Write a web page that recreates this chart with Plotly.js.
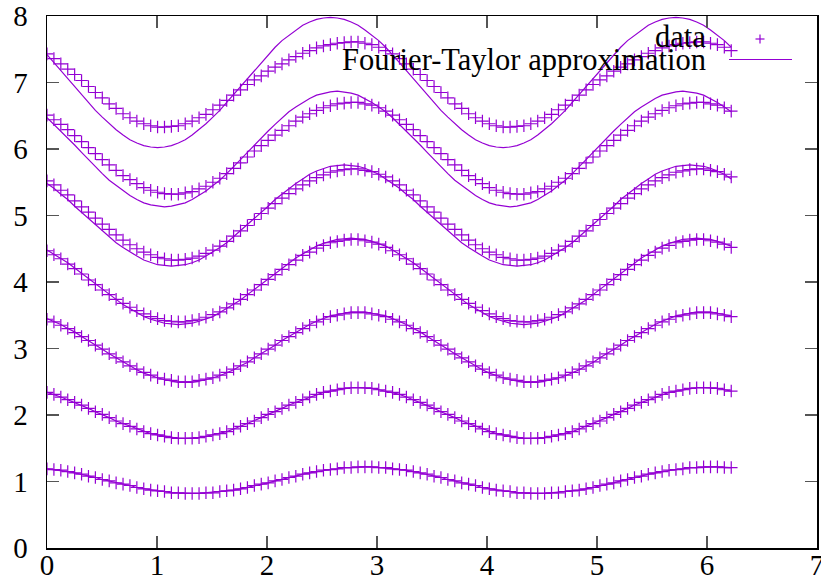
<!DOCTYPE html>
<html>
<head>
<meta charset="utf-8">
<script src="https://cdn.plot.ly/plotly-3.0.1.min.js"></script>
<style>html,body{margin:0;padding:0;background:#fff;}#chart{width:821px;height:583px;}</style>
</head>
<body>
<div id="chart"></div>
<script>
// x grid
const xs = [0, 0.0628, 0.1257, 0.1885, 0.2513, 0.3142, 0.3770, 0.4398, 0.5027, 0.5655, 0.6283, 0.6912, 0.7540, 0.8168, 0.8796, 0.9425, 1.0053, 1.0681, 1.1310, 1.1938, 1.2566, 1.3195, 1.3823, 1.4451, 1.5080, 1.5708, 1.6336, 1.6965, 1.7593, 1.8221, 1.8850, 1.9478, 2.0106, 2.0735, 2.1363, 2.1991, 2.2619, 2.3248, 2.3876, 2.4504, 2.5133, 2.5761, 2.6389, 2.7018, 2.7646, 2.8274, 2.8903, 2.9531, 3.0159, 3.0788,
 3.1416, 3.2044, 3.2673, 3.3301, 3.3929, 3.4558, 3.5186, 3.5814, 3.6442, 3.7071, 3.7699, 3.8327, 3.8956, 3.9584, 4.0212, 4.0841, 4.1469, 4.2097, 4.2726, 4.3354, 4.3982, 4.4611, 4.5239, 4.5867, 4.6496, 4.7124, 4.7752, 4.8381, 4.9009, 4.9637, 5.0265, 5.0894, 5.1522, 5.2150, 5.2779, 5.3407, 5.4035, 5.4664, 5.5292, 5.5920, 5.6549, 5.7177, 5.7805, 5.8434, 5.9062, 5.9690, 6.0319, 6.0947, 6.1575, 6.2204];

// data series (markers)
const data1 = [1.19, 1.18, 1.17, 1.15, 1.13, 1.11, 1.08, 1.06, 1.03, 1.01, 0.98, 0.96, 0.94, 0.91, 0.89, 0.87, 0.86, 0.85, 0.83, 0.83, 0.82, 0.82, 0.82, 0.83, 0.83, 0.85, 0.86, 0.87, 0.89, 0.91, 0.94, 0.96, 0.98, 1.01, 1.03, 1.06, 1.08, 1.11, 1.13, 1.15, 1.17, 1.18, 1.19, 1.21, 1.21, 1.22, 1.22, 1.22, 1.21, 1.21,
 1.19, 1.18, 1.17, 1.15, 1.13, 1.11, 1.08, 1.06, 1.03, 1.01, 0.98, 0.96, 0.94, 0.91, 0.89, 0.87, 0.86, 0.85, 0.83, 0.83, 0.82, 0.82, 0.82, 0.83, 0.83, 0.85, 0.86, 0.87, 0.89, 0.91, 0.94, 0.96, 0.98, 1.01, 1.03, 1.06, 1.08, 1.11, 1.13, 1.15, 1.17, 1.18, 1.19, 1.21, 1.21, 1.22, 1.22, 1.22, 1.21, 1.21];
const data2 = [2.34, 2.31, 2.27, 2.23, 2.19, 2.15, 2.10, 2.05, 2.01, 1.96, 1.91, 1.87, 1.83, 1.79, 1.75, 1.72, 1.70, 1.68, 1.66, 1.65, 1.65, 1.65, 1.66, 1.68, 1.70, 1.72, 1.75, 1.79, 1.83, 1.87, 1.91, 1.96, 2.01, 2.05, 2.10, 2.15, 2.19, 2.23, 2.27, 2.31, 2.34, 2.36, 2.38, 2.40, 2.41, 2.41, 2.41, 2.40, 2.38, 2.36,
 2.34, 2.31, 2.27, 2.23, 2.19, 2.15, 2.10, 2.05, 2.01, 1.96, 1.91, 1.87, 1.83, 1.79, 1.75, 1.72, 1.70, 1.68, 1.66, 1.65, 1.65, 1.65, 1.66, 1.68, 1.70, 1.72, 1.75, 1.79, 1.83, 1.87, 1.91, 1.96, 2.01, 2.05, 2.10, 2.15, 2.19, 2.23, 2.27, 2.31, 2.34, 2.36, 2.38, 2.40, 2.41, 2.41, 2.41, 2.40, 2.38, 2.36];
const data3 = [3.44, 3.40, 3.35, 3.30, 3.24, 3.18, 3.12, 3.05, 2.99, 2.92, 2.86, 2.80, 2.74, 2.69, 2.64, 2.60, 2.56, 2.54, 2.52, 2.50, 2.50, 2.50, 2.52, 2.54, 2.56, 2.60, 2.64, 2.69, 2.74, 2.80, 2.86, 2.92, 2.99, 3.05, 3.12, 3.18, 3.24, 3.30, 3.35, 3.40, 3.44, 3.48, 3.50, 3.52, 3.54, 3.54, 3.54, 3.52, 3.50, 3.48,
 3.44, 3.40, 3.35, 3.30, 3.24, 3.18, 3.12, 3.05, 2.99, 2.92, 2.86, 2.80, 2.74, 2.69, 2.64, 2.60, 2.56, 2.54, 2.52, 2.50, 2.50, 2.50, 2.52, 2.54, 2.56, 2.60, 2.64, 2.69, 2.74, 2.80, 2.86, 2.92, 2.99, 3.05, 3.12, 3.18, 3.24, 3.30, 3.35, 3.40, 3.44, 3.48, 3.50, 3.52, 3.54, 3.54, 3.54, 3.52, 3.50, 3.48];
const data4 = [4.47, 4.41, 4.35, 4.27, 4.20, 4.12, 4.03, 3.96, 3.88, 3.81, 3.74, 3.68, 3.62, 3.57, 3.52, 3.48, 3.45, 3.42, 3.41, 3.40, 3.40, 3.42, 3.44, 3.47, 3.51, 3.55, 3.61, 3.67, 3.74, 3.81, 3.88, 3.96, 4.04, 4.11, 4.19, 4.26, 4.33, 4.40, 4.45, 4.51, 4.55, 4.59, 4.61, 4.63, 4.64, 4.64, 4.62, 4.60, 4.57, 4.52,
 4.47, 4.41, 4.35, 4.27, 4.20, 4.12, 4.03, 3.96, 3.88, 3.81, 3.74, 3.68, 3.62, 3.57, 3.52, 3.48, 3.45, 3.42, 3.41, 3.40, 3.40, 3.42, 3.44, 3.47, 3.51, 3.55, 3.61, 3.67, 3.74, 3.81, 3.88, 3.96, 4.04, 4.11, 4.19, 4.26, 4.33, 4.40, 4.45, 4.51, 4.55, 4.59, 4.61, 4.63, 4.64, 4.64, 4.62, 4.60, 4.57, 4.52];
const data5 = [5.52, 5.46, 5.38, 5.31, 5.22, 5.13, 5.05, 4.96, 4.87, 4.79, 4.71, 4.63, 4.56, 4.50, 4.45, 4.41, 4.37, 4.35, 4.33, 4.33, 4.34, 4.36, 4.39, 4.43, 4.48, 4.54, 4.61, 4.69, 4.77, 4.85, 4.94, 5.03, 5.11, 5.18, 5.26, 5.33, 5.40, 5.46, 5.52, 5.57, 5.61, 5.65, 5.67, 5.69, 5.70, 5.70, 5.68, 5.66, 5.62, 5.58,
 5.52, 5.46, 5.38, 5.31, 5.22, 5.13, 5.05, 4.96, 4.87, 4.79, 4.71, 4.63, 4.56, 4.50, 4.45, 4.41, 4.37, 4.35, 4.33, 4.33, 4.34, 4.36, 4.39, 4.43, 4.48, 4.54, 4.61, 4.69, 4.77, 4.85, 4.94, 5.03, 5.11, 5.18, 5.26, 5.33, 5.40, 5.46, 5.52, 5.57, 5.61, 5.65, 5.67, 5.69, 5.70, 5.70, 5.68, 5.66, 5.62, 5.58];
const data6 = [6.51, 6.44, 6.37, 6.29, 6.20, 6.11, 6.02, 5.93, 5.84, 5.76, 5.68, 5.60, 5.54, 5.48, 5.42, 5.38, 5.35, 5.33, 5.32, 5.32, 5.34, 5.36, 5.40, 5.44, 5.50, 5.56, 5.63, 5.71, 5.79, 5.88, 5.97, 6.05, 6.13, 6.21, 6.28, 6.35, 6.42, 6.48, 6.53, 6.58, 6.62, 6.65, 6.68, 6.69, 6.70, 6.70, 6.68, 6.66, 6.62, 6.57,
 6.51, 6.44, 6.37, 6.29, 6.20, 6.11, 6.02, 5.93, 5.84, 5.76, 5.68, 5.60, 5.54, 5.48, 5.42, 5.38, 5.35, 5.33, 5.32, 5.32, 5.34, 5.36, 5.40, 5.44, 5.50, 5.56, 5.63, 5.71, 5.79, 5.88, 5.97, 6.05, 6.13, 6.21, 6.28, 6.35, 6.42, 6.48, 6.53, 6.58, 6.62, 6.65, 6.68, 6.69, 6.70, 6.70, 6.68, 6.66, 6.62, 6.57];
const data7 = [7.43, 7.36, 7.28, 7.20, 7.12, 7.03, 6.94, 6.85, 6.77, 6.68, 6.61, 6.53, 6.47, 6.42, 6.38, 6.35, 6.33, 6.33, 6.34, 6.35, 6.38, 6.42, 6.47, 6.52, 6.59, 6.66, 6.73, 6.81, 6.89, 6.97, 7.04, 7.10, 7.17, 7.23, 7.28, 7.34, 7.39, 7.44, 7.48, 7.52, 7.55, 7.57, 7.59, 7.60, 7.61, 7.61, 7.59, 7.57, 7.53, 7.48,
 7.43, 7.36, 7.28, 7.20, 7.12, 7.03, 6.94, 6.85, 6.77, 6.68, 6.61, 6.53, 6.47, 6.42, 6.38, 6.35, 6.33, 6.33, 6.34, 6.35, 6.38, 6.42, 6.47, 6.52, 6.59, 6.66, 6.73, 6.81, 6.89, 6.97, 7.04, 7.10, 7.17, 7.23, 7.28, 7.34, 7.39, 7.44, 7.48, 7.52, 7.55, 7.57, 7.59, 7.60, 7.61, 7.61, 7.59, 7.57, 7.53, 7.48];

// Fourier-Taylor approximation series (lines)
const fit1 = [1.19, 1.18, 1.17, 1.15, 1.13, 1.11, 1.08, 1.06, 1.03, 1.01, 0.98, 0.96, 0.94, 0.91, 0.89, 0.87, 0.86, 0.85, 0.83, 0.83, 0.82, 0.82, 0.82, 0.83, 0.83, 0.85, 0.86, 0.87, 0.89, 0.91, 0.94, 0.96, 0.98, 1.01, 1.03, 1.06, 1.08, 1.11, 1.13, 1.15, 1.17, 1.18, 1.19, 1.21, 1.21, 1.22, 1.22, 1.22, 1.21, 1.21,
 1.19, 1.18, 1.17, 1.15, 1.13, 1.11, 1.08, 1.06, 1.03, 1.01, 0.98, 0.96, 0.94, 0.91, 0.89, 0.87, 0.86, 0.85, 0.83, 0.83, 0.82, 0.82, 0.82, 0.83, 0.83, 0.85, 0.86, 0.87, 0.89, 0.91, 0.94, 0.96, 0.98, 1.01, 1.03, 1.06, 1.08, 1.11, 1.13, 1.15, 1.17, 1.18, 1.19, 1.21, 1.21, 1.22, 1.22, 1.22, 1.21, 1.21];
const fit2 = [2.34, 2.31, 2.27, 2.23, 2.19, 2.15, 2.10, 2.05, 2.01, 1.96, 1.91, 1.87, 1.83, 1.79, 1.75, 1.72, 1.70, 1.68, 1.66, 1.65, 1.65, 1.65, 1.66, 1.68, 1.70, 1.72, 1.75, 1.79, 1.83, 1.87, 1.91, 1.96, 2.01, 2.05, 2.10, 2.15, 2.19, 2.23, 2.27, 2.31, 2.34, 2.36, 2.38, 2.40, 2.41, 2.41, 2.41, 2.40, 2.38, 2.36,
 2.34, 2.31, 2.27, 2.23, 2.19, 2.15, 2.10, 2.05, 2.01, 1.96, 1.91, 1.87, 1.83, 1.79, 1.75, 1.72, 1.70, 1.68, 1.66, 1.65, 1.65, 1.65, 1.66, 1.68, 1.70, 1.72, 1.75, 1.79, 1.83, 1.87, 1.91, 1.96, 2.01, 2.05, 2.10, 2.15, 2.19, 2.23, 2.27, 2.31, 2.34, 2.36, 2.38, 2.40, 2.41, 2.41, 2.41, 2.40, 2.38, 2.36];
const fit3 = [3.45, 3.41, 3.36, 3.30, 3.25, 3.18, 3.12, 3.05, 2.99, 2.92, 2.86, 2.79, 2.74, 2.68, 2.63, 2.59, 2.56, 2.53, 2.51, 2.49, 2.49, 2.49, 2.51, 2.53, 2.56, 2.59, 2.63, 2.68, 2.74, 2.79, 2.86, 2.92, 2.99, 3.05, 3.12, 3.18, 3.25, 3.30, 3.36, 3.41, 3.45, 3.49, 3.51, 3.53, 3.55, 3.55, 3.55, 3.53, 3.51, 3.49,
 3.45, 3.41, 3.36, 3.30, 3.25, 3.18, 3.12, 3.05, 2.99, 2.92, 2.86, 2.79, 2.74, 2.68, 2.63, 2.59, 2.56, 2.53, 2.51, 2.49, 2.49, 2.49, 2.51, 2.53, 2.56, 2.59, 2.63, 2.68, 2.74, 2.79, 2.86, 2.92, 2.99, 3.05, 3.12, 3.18, 3.25, 3.30, 3.36, 3.41, 3.45, 3.49, 3.51, 3.53, 3.55, 3.55, 3.55, 3.53, 3.51, 3.49];
const fit4 = [4.48, 4.42, 4.36, 4.29, 4.21, 4.13, 4.05, 3.97, 3.89, 3.81, 3.73, 3.66, 3.60, 3.54, 3.48, 3.44, 3.41, 3.38, 3.37, 3.36, 3.37, 3.38, 3.41, 3.44, 3.48, 3.54, 3.60, 3.66, 3.73, 3.81, 3.89, 3.97, 4.05, 4.13, 4.21, 4.29, 4.36, 4.42, 4.48, 4.54, 4.58, 4.61, 4.64, 4.65, 4.66, 4.65, 4.64, 4.61, 4.58, 4.54,
 4.48, 4.42, 4.36, 4.29, 4.21, 4.13, 4.05, 3.97, 3.89, 3.81, 3.73, 3.66, 3.60, 3.54, 3.48, 3.44, 3.41, 3.38, 3.37, 3.36, 3.37, 3.38, 3.41, 3.44, 3.48, 3.54, 3.60, 3.66, 3.73, 3.81, 3.89, 3.97, 4.05, 4.13, 4.21, 4.29, 4.36, 4.42, 4.48, 4.54, 4.58, 4.61, 4.64, 4.65, 4.66, 4.65, 4.64, 4.61, 4.58, 4.54];
const fit5 = [5.48, 5.41, 5.32, 5.24, 5.14, 5.05, 4.95, 4.86, 4.77, 4.68, 4.59, 4.52, 4.45, 4.39, 4.33, 4.29, 4.26, 4.25, 4.24, 4.25, 4.26, 4.29, 4.33, 4.39, 4.45, 4.52, 4.59, 4.68, 4.77, 4.86, 4.95, 5.05, 5.14, 5.24, 5.32, 5.41, 5.48, 5.55, 5.62, 5.67, 5.71, 5.74, 5.75, 5.76, 5.75, 5.74, 5.71, 5.67, 5.62, 5.55,
 5.48, 5.41, 5.32, 5.24, 5.14, 5.05, 4.95, 4.86, 4.77, 4.68, 4.59, 4.52, 4.45, 4.39, 4.33, 4.29, 4.26, 4.25, 4.24, 4.25, 4.26, 4.29, 4.33, 4.39, 4.45, 4.52, 4.59, 4.68, 4.77, 4.86, 4.95, 5.05, 5.14, 5.24, 5.32, 5.41, 5.48, 5.55, 5.62, 5.67, 5.71, 5.74, 5.75, 5.76, 5.75, 5.74, 5.71, 5.67, 5.62, 5.55];
const fit6 = [6.47, 6.37, 6.27, 6.16, 6.06, 5.95, 5.84, 5.73, 5.63, 5.53, 5.45, 5.37, 5.30, 5.24, 5.19, 5.16, 5.14, 5.13, 5.14, 5.16, 5.19, 5.24, 5.30, 5.37, 5.45, 5.53, 5.63, 5.73, 5.84, 5.95, 6.06, 6.16, 6.27, 6.37, 6.47, 6.56, 6.63, 6.70, 6.76, 6.81, 6.84, 6.86, 6.87, 6.86, 6.84, 6.81, 6.76, 6.70, 6.63, 6.56,
 6.47, 6.37, 6.27, 6.16, 6.06, 5.95, 5.84, 5.73, 5.63, 5.53, 5.45, 5.37, 5.30, 5.24, 5.19, 5.16, 5.14, 5.13, 5.14, 5.16, 5.19, 5.24, 5.30, 5.37, 5.45, 5.53, 5.63, 5.73, 5.84, 5.95, 6.06, 6.16, 6.27, 6.37, 6.47, 6.56, 6.63, 6.70, 6.76, 6.81, 6.84, 6.86, 6.87, 6.86, 6.84, 6.81, 6.76, 6.70, 6.63, 6.56];
const fit7 = [7.42, 7.30, 7.18, 7.06, 6.94, 6.82, 6.70, 6.58, 6.48, 6.38, 6.29, 6.21, 6.14, 6.09, 6.05, 6.03, 6.02, 6.03, 6.05, 6.09, 6.14, 6.21, 6.29, 6.38, 6.48, 6.58, 6.70, 6.82, 6.94, 7.06, 7.18, 7.30, 7.42, 7.53, 7.63, 7.71, 7.79, 7.86, 7.91, 7.95, 7.97, 7.98, 7.97, 7.95, 7.91, 7.86, 7.79, 7.71, 7.63, 7.53,
 7.42, 7.30, 7.18, 7.06, 6.94, 6.82, 6.70, 6.58, 6.48, 6.38, 6.29, 6.21, 6.14, 6.09, 6.05, 6.03, 6.02, 6.03, 6.05, 6.09, 6.14, 6.21, 6.29, 6.38, 6.48, 6.58, 6.70, 6.82, 6.94, 7.06, 7.18, 7.30, 7.42, 7.53, 7.63, 7.71, 7.79, 7.86, 7.91, 7.95, 7.97, 7.98, 7.97, 7.95, 7.91, 7.86, 7.79, 7.71, 7.63, 7.53];

const legendLabels = ["data", "Fourier-Taylor approximation"];
const xTicks = [0, 1, 2, 3, 4, 5, 6, 7];
const yTicks = [0, 1, 2, 3, 4, 5, 6, 7, 8];

const PURPLE = "#9400d3";
const dataSeries = [data1, data2, data3, data4, data5, data6, data7];
const fitSeries = [fit1, fit2, fit3, fit4, fit5, fit6, fit7];

const traces = [];
fitSeries.forEach(function (ys) {
  traces.push({x: xs, y: ys, type: "scatter", mode: "lines",
    line: {color: PURPLE, width: 1.2}, showlegend: false, hoverinfo: "skip"});
});
dataSeries.forEach(function (ys) {
  traces.push({x: xs, y: ys, type: "scatter", mode: "markers",
    marker: {symbol: "cross-thin", size: 9, color: PURPLE, line: {color: PURPLE, width: 1.2}},
    showlegend: false, hoverinfo: "skip"});
});

const L = 47, R = 4, T = 16, B = 35, W = 821, H = 583;
const pw = W - L - R, ph = H - T - B;
function px(xp) { return (xp - L) / pw; }
function py(yp) { return 1 - (yp - T) / ph; }

const fontFam = "Liberation Serif, Times New Roman, serif";
const axisCommon = {
  showgrid: false, zeroline: false, showline: true, linecolor: "#000", linewidth: 1.5,
  ticks: "inside", ticklen: 12, tickwidth: 1.3, tickcolor: "#555", mirror: "ticks",
  ticklabeloverflow: "allow",
  tickfont: {family: fontFam, size: 29, color: "#000"}
};

const layout = {
  width: W, height: H,
  margin: {l: L, r: R, t: T, b: B, pad: 0},
  paper_bgcolor: "#fff", plot_bgcolor: "#fff",
  showlegend: false,
  xaxis: Object.assign({}, axisCommon, {range: [0, 7], tickvals: xTicks, ticktext: xTicks.map(String), ticklabelstandoff: -9}),
  yaxis: Object.assign({}, axisCommon, {range: [0, 8], tickvals: yTicks, ticktext: yTicks.map(String), ticklabelstandoff: 12}),
  annotations: [
    {xref: "paper", yref: "paper", x: px(708), y: py(37), xanchor: "right", yanchor: "middle",
     text: legendLabels[0], showarrow: false, font: {family: fontFam, size: 30.5, color: "#000"}},
    {xref: "paper", yref: "paper", x: px(708), y: py(60), xanchor: "right", yanchor: "middle",
     text: legendLabels[1], showarrow: false, font: {family: fontFam, size: 30.5, color: "#000"}}
  ],
  shapes: [
    {type: "line", xref: "paper", yref: "paper", x0: px(729), x1: px(792), y0: py(59.5), y1: py(59.5), line: {color: PURPLE, width: 1.2}},
    {type: "line", xref: "paper", yref: "paper", x0: px(755.5), x1: px(764.5), y0: py(39), y1: py(39), line: {color: PURPLE, width: 1.2}},
    {type: "line", xref: "paper", yref: "paper", x0: px(760), x1: px(760), y0: py(34.5), y1: py(43.5), line: {color: PURPLE, width: 1.2}}
  ]
};

Plotly.newPlot("chart", traces, layout, {displayModeBar: false, staticPlot: true});
</script>
</body>
</html>
